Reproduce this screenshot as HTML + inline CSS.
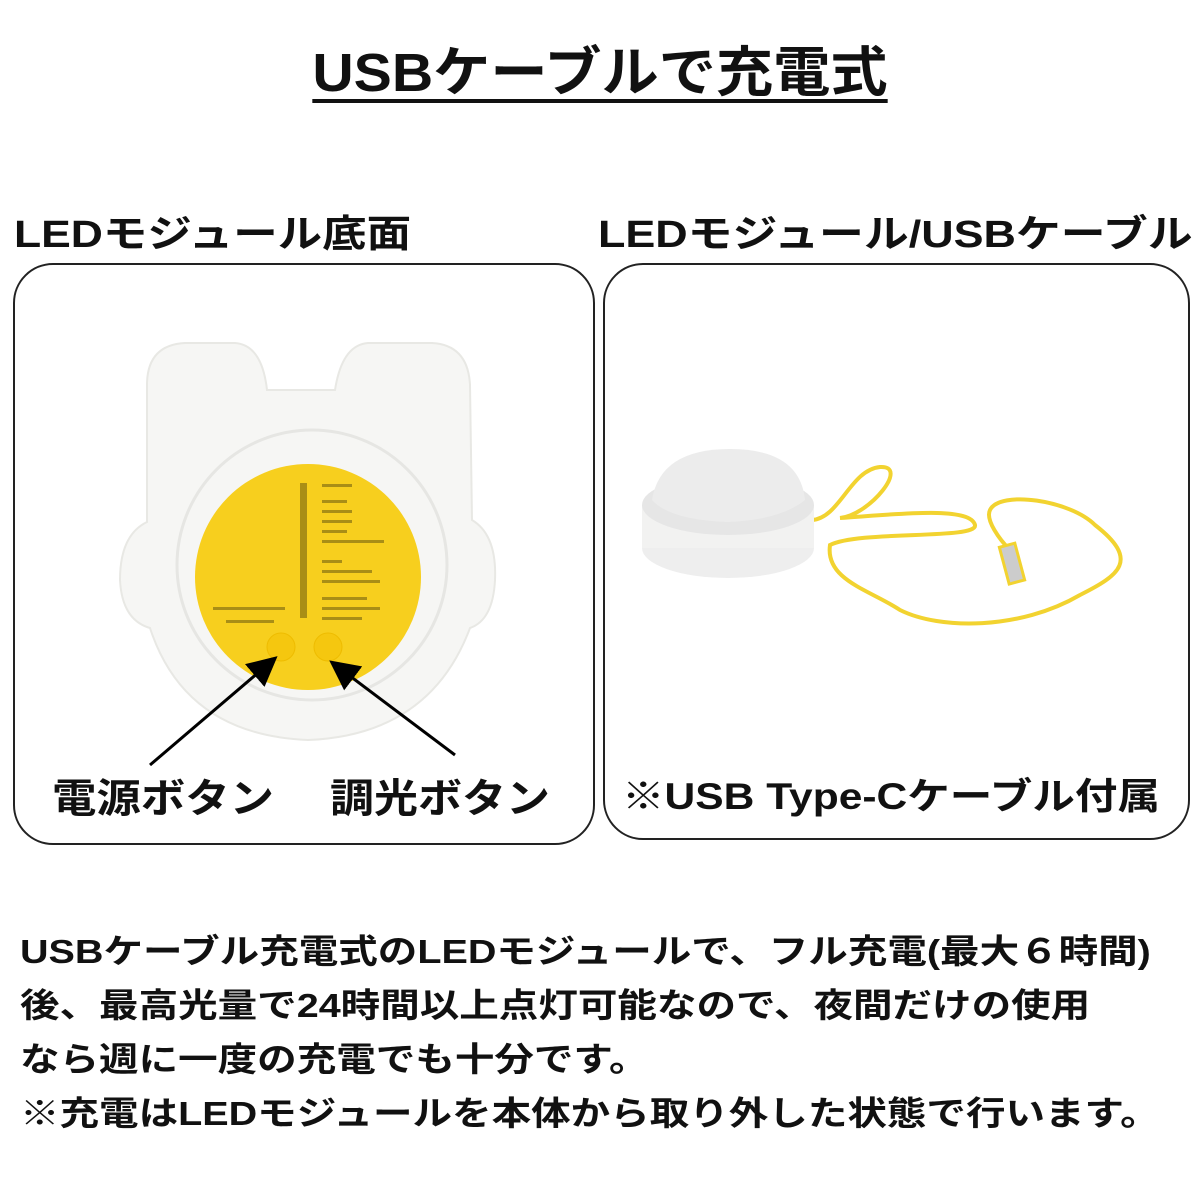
<!DOCTYPE html>
<html><head><meta charset="utf-8"><style>
body{margin:0;width:1200px;height:1200px;background:#fff;position:relative;overflow:hidden;font-family:"Liberation Sans","Noto Sans CJK JP",sans-serif;font-weight:bold;color:#111}
.a{position:absolute;white-space:nowrap}
.s{transform-origin:0 0}
.box{position:absolute;border:2px solid #222;border-radius:40px}
</style></head><body>
<div class="a" style="left:0;width:1200px;text-align:center;top:28px;font-size:54px;text-decoration:underline;text-decoration-thickness:4px;text-underline-offset:8px;transform:scaleX(1.06)">USBケーブルで充電式</div>
<div class="a s" style="left:14px;top:203px;font-size:38px;transform:scaleX(1.17)">LEDモジュール底面</div>
<div class="a s" style="left:598px;top:203px;font-size:38px;transform:scaleX(1.18)">LEDモジュール/USBケーブル</div>
<div class="box" style="left:13px;top:263px;width:578px;height:578px"></div>
<div class="box" style="left:603px;top:263px;width:583px;height:573px"></div>
<svg class="a" style="left:0;top:0" width="1200" height="900">
<defs><marker id="ar" markerWidth="10" markerHeight="10" refX="8" refY="5" orient="auto"><path d="M0,0 L10,5 L0,10 z" fill="#000"/></marker></defs>
<path d="M147,385 Q147,345 185,343 L235,343 Q262,345 267,390 L335,390 Q342,345 368,343 L432,343 Q468,345 470,385 L472,520 Q497,535 495,580 Q493,620 470,628 Q430,735 308,740 Q185,735 150,628 Q122,620 120,580 Q120,535 147,522 Z" fill="#f6f6f4" stroke="#e8e8e4" stroke-width="2"/>
<circle cx="312" cy="565" r="135" fill="none" stroke="#e6e6e3" stroke-width="3"/>
<circle cx="308" cy="577" r="113" fill="#f7cf1e"/>
<circle cx="281" cy="647" r="14" fill="#f5c70f" stroke="#eebc00"/>
<circle cx="328" cy="647" r="14" fill="#f5c70f" stroke="#eebc00"/>
<g fill="#6a5a10" opacity=".55"><rect x="300" y="483" width="7" height="135"/><rect x="322" y="484" width="30" height="3"/><rect x="322" y="500" width="25" height="3"/><rect x="322" y="510" width="30" height="3"/><rect x="322" y="520" width="30" height="3"/><rect x="322" y="530" width="25" height="3"/><rect x="322" y="540" width="62" height="3"/><rect x="322" y="560" width="20" height="3"/><rect x="322" y="570" width="50" height="3"/><rect x="322" y="580" width="58" height="3"/><rect x="322" y="597" width="45" height="3"/><rect x="322" y="607" width="58" height="3"/><rect x="322" y="617" width="40" height="3"/><rect x="213" y="607" width="72" height="3"/><rect x="226" y="620" width="48" height="3"/></g>
<line x1="150" y1="765" x2="273" y2="660" stroke="#000" stroke-width="3" marker-end="url(#ar)"/>
<line x1="455" y1="755" x2="334" y2="664" stroke="#000" stroke-width="3" marker-end="url(#ar)"/>
<path d="M812,520 C840,518 850,470 880,467 C910,465 870,515 840,518 C890,515 970,505 975,525 C978,540 860,530 830,545 C825,580 870,590 900,610 C940,630 1020,630 1080,595 C1120,575 1140,560 1095,525 C1070,500 1000,490 990,510 C985,520 1000,540 1010,550" fill="none" stroke="#f2d330" stroke-width="4"/>
<rect x="1003" y="545" width="16" height="38" fill="#ccc" stroke="#f2d330" stroke-width="3" transform="rotate(-15 1010 560)"/>
<ellipse cx="728" cy="548" rx="86" ry="30" fill="#eee"/>
<rect x="642" y="505" width="172" height="43" fill="#f2f2f1"/>
<ellipse cx="728" cy="505" rx="86" ry="30" fill="#e6e6e6"/>
<path d="M652,500 Q660,449 730,449 Q800,449 805,500 Q780,520 728,522 Q670,520 652,500Z" fill="#ececec"/>
</svg>
<div class="a s" style="left:52px;top:766px;font-size:40px;transform:scaleX(1.11)">電源ボタン</div>
<div class="a s" style="left:330px;top:766px;font-size:40px;transform:scaleX(1.1)">調光ボタン</div>
<div class="a s" style="left:622px;top:766px;font-size:37px;transform:scaleX(1.15)">※USB Type-Cケーブル付属</div>
<div class="a s" style="left:20px;top:926px;font-size:33.5px;line-height:54px;transform:scaleX(1.18)">USBケーブル充電式のLEDモジュールで、フル充電(最大６時間)<br>後、最高光量で24時間以上点灯可能なので、夜間だけの使用<br>なら週に一度の充電でも十分です。<br>※充電はLEDモジュールを本体から取り外した状態で行います。</div>
</body></html>
